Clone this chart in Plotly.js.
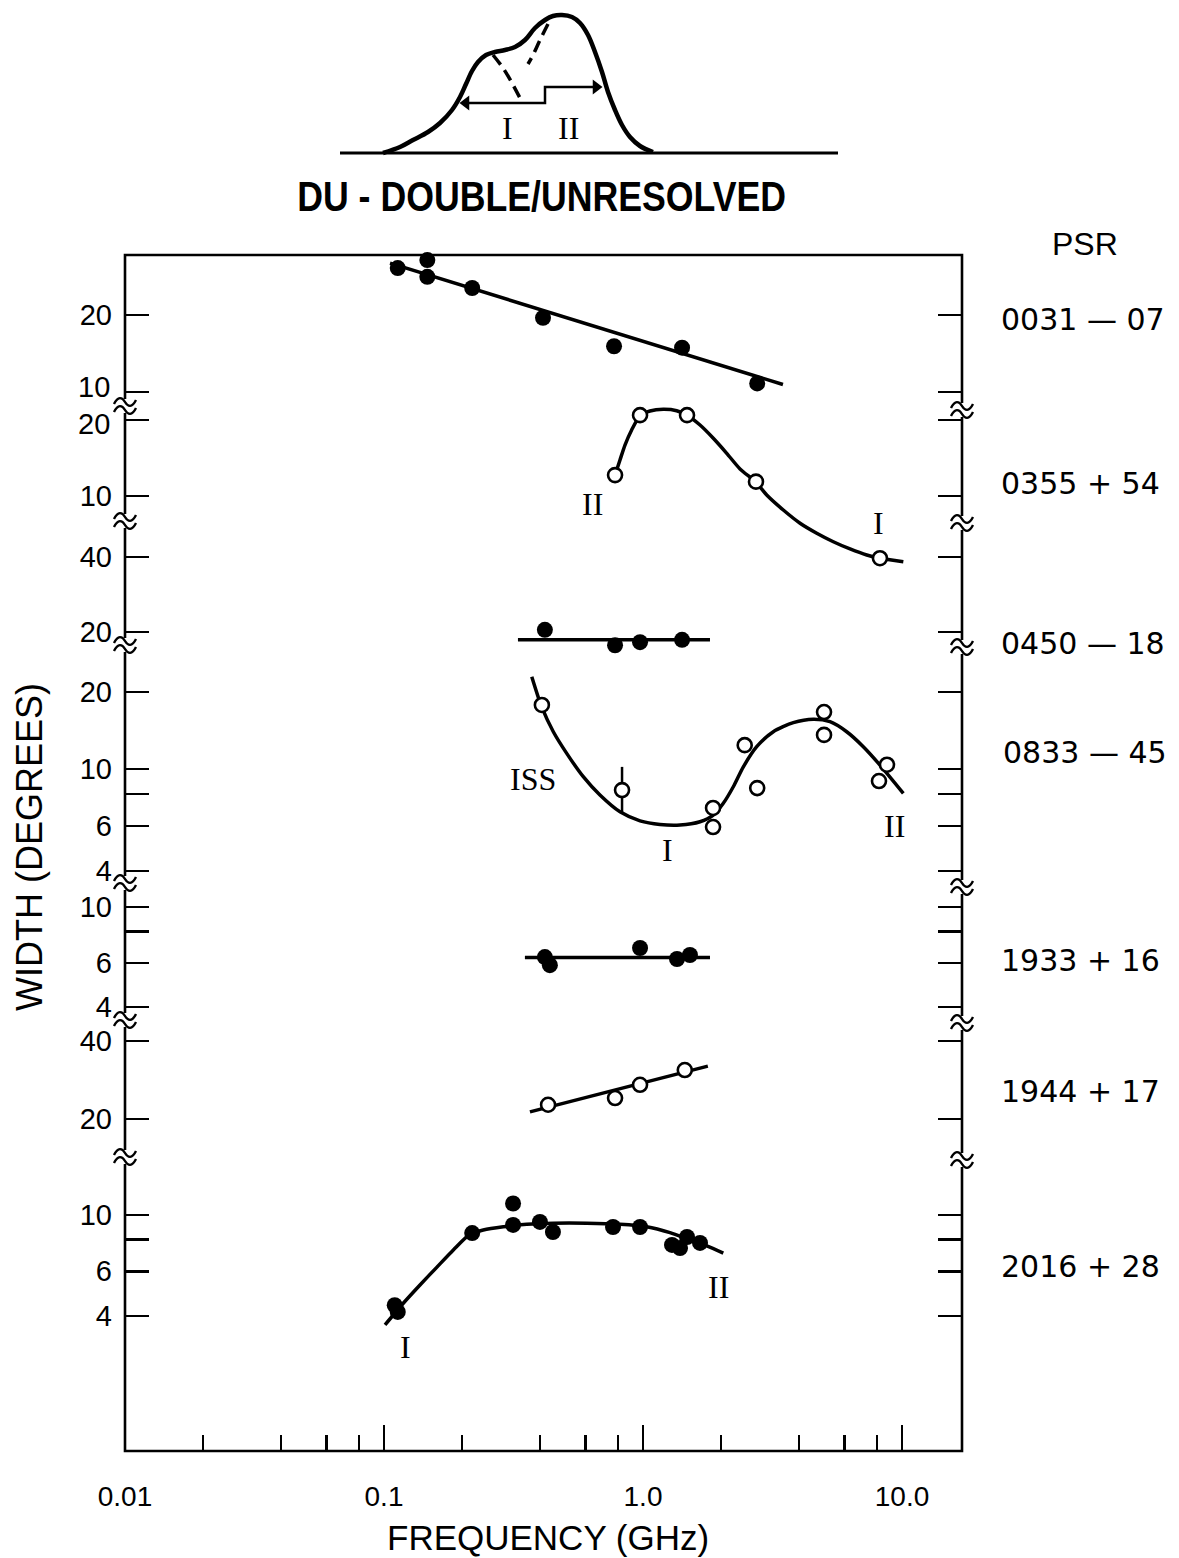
<!DOCTYPE html>
<html><head><meta charset="utf-8">
<script src="https://cdn.plot.ly/plotly-3.0.1.min.js"></script>
<style>html,body{margin:0;padding:0;background:#fff}</style>
</head><body>
<div id="chart" style="width:1179px;height:1558px"></div>
<script>
// ---------------- DATA (frequency in GHz, width in degrees) ----------------
// PSR 0031-07 (filled)
const f0031 = [0.113, 0.147, 0.147, 0.219, 0.411, 0.773, 1.415, 2.76];
const w0031 = [30.5, 32.8, 28.2, 25.5, 19.5, 15.1, 14.9, 10.8];
const fitF0031 = [0.1055, 3.47];
const fitW0031 = [31.9, 10.7];
// PSR 0355+54 (open)
const f0355 = [0.780, 0.974, 1.479, 2.73, 8.22];
const w0355 = [12.1, 20.9, 20.9, 11.4, 5.67];
const fitF0355 = [0.780, 0.815, 0.852, 0.904, 0.974, 1.064, 1.198, 1.349, 1.475, 1.66, 1.868, 2.105, 2.369, 2.731, 3.004, 3.481, 4.04, 4.686, 5.43, 6.30, 7.31, 8.22, 10.12];
const fitW0355 = [12.11, 13.89, 15.92, 18.26, 20.8, 21.71, 22.05, 21.77, 20.93, 19.1, 16.93, 14.76, 12.8, 11.33, 10.09, 8.80, 7.80, 7.12, 6.59, 6.17, 5.84, 5.67, 5.49];
// PSR 0450-18 (filled)
const f0450 = [0.418, 0.780, 0.974, 1.415];
const w0450 = [20.4, 17.7, 18.2, 18.6];
const fitF0450 = [0.329, 1.814];
const fitW0450 = [18.6, 18.6];
// PSR 0833-45 (open)
const f0833 = [0.407, 0.830, 1.864, 1.864, 2.47, 2.76, 5.0, 5.0, 8.75, 8.15];
const w0833 = [17.8, 8.28, 7.05, 5.94, 12.4, 8.43, 16.7, 13.6, 10.4, 8.98];
const errF0833 = [0.830];
const errW0833 = [8.28];
const errHi0833 = [10.2];
const errLo0833 = [6.8];
const fitF0833 = [0.372, 0.406, 0.4505, 0.5075, 0.588, 0.682, 0.815, 0.974, 1.163, 1.39, 1.66, 1.868, 2.042, 2.232, 2.44, 2.748, 3.185, 3.805, 4.546, 5.272, 6.116, 7.089, 8.222, 10.12];
const fitW0833 = [22.95, 17.52, 13.99, 11.52, 9.34, 7.92, 6.81, 6.28, 6.08, 6.05, 6.23, 6.61, 7.35, 8.53, 10.2, 12.23, 13.99, 15.18, 15.65, 15.31, 13.99, 12.23, 10.37, 8.04];
// PSR 1933+16 (filled)
const f1933 = [0.418, 0.437, 0.974, 1.353, 1.518];
const w1933 = [6.32, 5.87, 6.87, 6.21, 6.44];
const fitF1933 = [0.350, 1.814];
const fitW1933 = [6.3, 6.3];
// PSR 1944+17 (open)
const f1944 = [0.430, 0.780, 0.974, 1.45];
const w1944 = [22.7, 24.1, 27.1, 30.9];
const fitF1944 = [0.366, 1.78];
const fitW1944 = [21.3, 32.0];
// PSR 2016+28 (filled)
const f2016 = [0.110, 0.113, 0.219, 0.315, 0.315, 0.400, 0.449, 0.766, 0.974, 1.294, 1.39, 1.479, 1.66];
const w2016 = [4.41, 4.15, 8.49, 11.1, 9.14, 9.39, 8.57, 8.97, 8.97, 7.62, 7.41, 8.19, 7.76];
const fitF2016 = [0.1009, 0.1187, 0.1377, 0.1598, 0.1852, 0.2148, 0.2417, 0.2888, 0.3556, 0.4505, 0.6063, 0.815, 1.033, 1.271, 1.518, 1.762, 2.042];
const fitW2016 = [3.69, 4.49, 5.30, 6.22, 7.28, 8.39, 8.73, 8.99, 9.19, 9.28, 9.28, 9.19, 8.99, 8.52, 7.97, 7.55, 7.07];

// tick labels
const xTickVals = [0.01, 0.1, 1, 10];
const xTickText = ['0.01', '0.1', '1.0', '10.0'];
const xMinorVals = [0.02, 0.04, 0.06, 0.08, 0.2, 0.4, 0.6, 0.8, 2, 4, 6, 8];
const panelTickVals = [[20, 10], [20, 10], [40, 20], [20, 10, 8, 6, 4], [10, 8, 6, 4], [40, 20], [10, 8, 6, 4]];
const panelTickText = [['20', ''], ['', '10'], ['40', '20'], ['20', '10', '', '6', '4'], ['10', '', '6', '4'], ['40', '20'], ['10', '', '6', '4']];
const psrNames = ['0031 — 07', '0355 + 54', '0450 — 18', '0833 — 45', '1933 + 16', '1944 + 17', '2016 + 28'];

// schematic double profile (sketch units)
const sketchProfX = [383, 400, 413, 428, 440, 452, 460, 466, 472, 478, 486, 495, 505, 515, 525, 535, 545, 553, 562, 572, 580, 588, 595, 602, 608, 615, 622, 630, 640, 653];
const sketchProfY = [153, 147, 140, 132, 123, 110, 97, 84, 71, 62, 55, 52, 50, 47, 40, 28, 20, 16, 15, 17, 23, 35, 52, 72, 92, 110, 125, 137, 146, 152];
const sketchBaseX = [340, 838];
const sketchBaseY = [153, 153];
const sketchCompIX = [493, 503, 512, 520];
const sketchCompIY = [55, 68, 83, 98];
const sketchCompIIX = [548, 540, 533, 528];
const sketchCompIIY = [24, 40, 55, 64];
const sketchWidthX = [466, 545, 545, 596];
const sketchWidthY = [103, 103, 87, 87];
const sketchArrowX = [466, 596];
const sketchArrowY = [103, 87];

// ---------------- LAYOUT GEOMETRY ----------------
const ML = 125, MR = 217, MB = 107;
const PH = 1558 - MB;      // paper height in px (top margin 0)
const PW = 1179 - ML - MR; // paper width in px
const FRAME_TOP = 255;
const py = p => (PH - p) / PH;
const pxX = p => (p - ML) / PW;

// each panel: pixel extent and two reference ticks (value, pixel)
const panelGeom = [
  {top: 255, bot: 406, v1: 20, p1: 315, v2: 10, p2: 392},
  {top: 406, bot: 578, v1: 20, p1: 420, v2: 10, p2: 496},
  {top: 521, bot: 662, v1: 40, p1: 557, v2: 20, p2: 632},
  {top: 645, bot: 883, v1: 20, p1: 692, v2: 4, p2: 871},
  {top: 883, bot: 1020, v1: 10, p1: 907, v2: 4, p2: 1007},
  {top: 1020, bot: 1157, v1: 40, p1: 1041, v2: 20, p2: 1119},
  {top: 1157, bot: 1451, v1: 10, p1: 1215, v2: 4, p2: 1316}
];
const namePos = [[999, 320], [999, 483], [999, 643], [1001, 753], [999, 961], [999, 1091], [999, 1266]];
const leftBreaks = [406, 521, 645, 883, 1020, 1157];
const rightBreaks = [410, 523, 647, 887, 1023, 1160];

const TICKFONT = {family: 'Liberation Sans, Arial, sans-serif', size: 29, color: '#000'};
const SERIF = {family: 'Liberation Serif, Times New Roman, serif', size: 32, color: '#000'};

const layout = {
  width: 1179, height: 1558,
  margin: {l: ML, r: MR, t: 0, b: MB, pad: 0},
  paper_bgcolor: '#fff', plot_bgcolor: 'rgba(0,0,0,0)',
  showlegend: false,
  xaxis: {
    type: 'log', range: [-2, -2 + (962 - ML) / 259], anchor: 'y7', domain: [0, 1],
    tickmode: 'array', tickvals: xTickVals, ticktext: xTickText,
    ticks: 'inside', ticklen: 26, tickwidth: 2.5, tickcolor: '#000',
    minor: {tickmode: 'array', tickvals: xMinorVals, ticks: 'inside', ticklen: 16, tickwidth: 2.5, tickcolor: '#000', showgrid: false},
    showline: false, showgrid: false, zeroline: false,
    tickfont: {family: 'Liberation Sans, Arial, sans-serif', size: 28, color: '#000'},
    ticklabelstandoff: 26, fixedrange: true
  },
  xaxis2: {
    type: 'log', overlaying: 'x', anchor: 'y', side: 'top', range: [-2, -2 + (962 - ML) / 259],
    tickmode: 'array', tickvals: xTickVals, showticklabels: false,
    ticks: 'inside', ticklen: 24, tickwidth: 2.5, tickcolor: '#000',
    minor: {tickmode: 'array', tickvals: xMinorVals, ticks: 'inside', ticklen: 15, tickwidth: 2.5, tickcolor: '#000', showgrid: false},
    showline: false, showgrid: false, zeroline: false, fixedrange: true
  },
  xaxis3: {domain: [0, 1], range: [ML, ML + PW], anchor: 'y8', visible: false, fixedrange: true},
  yaxis8: {domain: [py(250), 1], range: [250, 0], anchor: 'x3', visible: false, fixedrange: true},
  shapes: [],
  annotations: []
};

panelGeom.forEach((g, i) => {
  const l1 = Math.log10(g.v1), l2 = Math.log10(g.v2);
  const dpp = (l1 - l2) / (g.p2 - g.p1);
  const hi = l1 + (g.p1 - g.top) * dpp;
  const lo = l1 - (g.bot - g.p1) * dpp;
  layout['yaxis' + (i === 0 ? '' : i + 1)] = {
    type: 'log', domain: [py(g.bot), py(g.top)], range: [lo, hi], anchor: 'x',
    tickmode: 'array', tickvals: panelTickVals[i], ticktext: panelTickText[i],
    ticks: 'inside', ticklen: 24, tickwidth: 2.5, tickcolor: '#000', mirror: 'ticks',
    showline: false, showgrid: false, zeroline: false,
    tickfont: TICKFONT, ticklabelstandoff: 12, fixedrange: true
  };
  layout.annotations.push({
    xref: 'paper', yref: 'paper', x: pxX(namePos[i][0]), y: py(namePos[i][1]),
    text: psrNames[i], showarrow: false, xanchor: 'left', yanchor: 'middle',
    font: {family: 'DejaVu Sans, sans-serif', size: 30, color: '#000'}
  });
});
// the two crowded tick labels at the first break, set apart
layout.annotations.push(
  {xref: 'paper', yref: 'paper', x: pxX(111), y: py(404), text: '10', showarrow: false, xanchor: 'right', yanchor: 'bottom', borderpad: 0, font: TICKFONT},
  {xref: 'paper', yref: 'paper', x: pxX(111), y: py(407), text: '20', showarrow: false, xanchor: 'right', yanchor: 'top', borderpad: 0, font: TICKFONT}
);

// frame
layout.shapes.push({type: 'rect', xref: 'paper', yref: 'paper', x0: 0, x1: 1, y0: 0, y1: py(FRAME_TOP),
  line: {color: '#000', width: 2.6}, fillcolor: 'rgba(0,0,0,0)', layer: 'above'});
// axis breaks
function addBreak(xa, yp) {
  const base = {xref: 'paper', yref: 'paper', xsizemode: 'pixel', ysizemode: 'pixel', xanchor: xa, yanchor: py(yp), layer: 'above'};
  layout.shapes.push(Object.assign({}, base, {type: 'rect', x0: -4, x1: 4, y0: -7, y1: 7, fillcolor: '#fff', line: {width: 0}}));
  layout.shapes.push(Object.assign({}, base, {type: 'path', path: 'M-11,2 C-7,10 -3,9 0,4 C3,-1 7,-2 11,6', line: {color: '#000', width: 2.4}}));
  layout.shapes.push(Object.assign({}, base, {type: 'path', path: 'M-11,-6 C-7,2 -3,1 0,-4 C3,-9 7,-10 11,-2', line: {color: '#000', width: 2.4}}));
}
leftBreaks.forEach(b => addBreak(0, b));
rightBreaks.forEach(b => addBreak(1, b));

// titles & labels
layout.annotations.push(
  {xref: 'paper', yref: 'paper', x: pxX(548), y: py(1537), text: 'FREQUENCY (GHz)', showarrow: false,
   xanchor: 'center', yanchor: 'middle', font: {family: 'Liberation Sans, Arial, sans-serif', size: 35, color: '#000'}},
  {xref: 'paper', yref: 'paper', x: pxX(30), y: py(847), text: 'WIDTH (DEGREES)', showarrow: false, textangle: -90,
   xanchor: 'center', yanchor: 'middle', font: {family: 'Liberation Sans, Arial, sans-serif', size: 36, color: '#000'}},
  {xref: 'paper', yref: 'paper', x: pxX(1085), y: py(244), text: 'PSR', showarrow: false,
   xanchor: 'center', yanchor: 'middle', font: {family: 'Liberation Sans, Arial, sans-serif', size: 32, color: '#000'}},
  {xref: 'x3', yref: 'y8', x: 541, y: 196, text: '<b>DU - DOUBLE/UNRESOLVED</b>', showarrow: false,
   xanchor: 'center', yanchor: 'middle', font: {family: 'Liberation Sans, Arial, sans-serif', size: 43, color: '#000'}},
  {xref: 'x3', yref: 'y8', x: 507, y: 128, text: 'I', showarrow: false, font: SERIF},
  {xref: 'x3', yref: 'y8', x: 568, y: 128, text: 'II', showarrow: false, font: SERIF}
);
const compLabels = [['II', 592, 504], ['I', 878, 523], ['ISS', 533, 779], ['I', 667, 850], ['II', 894, 826], ['I', 405, 1347], ['II', 718, 1287]];
compLabels.forEach(c => layout.annotations.push({xref: 'paper', yref: 'paper', x: pxX(c[1]), y: py(c[2]), text: c[0],
  showarrow: false, xanchor: 'center', yanchor: 'middle', font: SERIF}));

// ---------------- TRACES ----------------
const traces = [];
const LINE = {color: '#000', width: 3.5};
function fit(fx, fy, ya, spline) {
  traces.push({type: 'scatter', mode: 'lines', x: fx, y: fy, xaxis: 'x', yaxis: ya,
    line: Object.assign({}, LINE, spline ? {shape: 'spline', smoothing: 0.7} : {}), hoverinfo: 'skip'});
}
function pts(fx, fy, ya, open) {
  traces.push({type: 'scatter', mode: 'markers', x: fx, y: fy, xaxis: 'x', yaxis: ya, cliponaxis: false,
    marker: open ? {symbol: 'circle', size: 14, color: '#fff', line: {color: '#000', width: 2.6}}
                 : {symbol: 'circle', size: 16, color: '#000', line: {width: 0}}, hoverinfo: 'skip'});
}
fit(fitF0031, fitW0031, 'y', false);      pts(f0031, w0031, 'y', false);
fit(fitF0355, fitW0355, 'y2', true);      pts(f0355, w0355, 'y2', true);
fit(fitF0450, fitW0450, 'y3', false);     pts(f0450, w0450, 'y3', false);
fit(fitF0833, fitW0833, 'y4', true);
traces.push({type: 'scatter', mode: 'markers', x: errF0833, y: errW0833, xaxis: 'x', yaxis: 'y4', cliponaxis: false,
  marker: {size: 1, color: 'rgba(0,0,0,0)'},
  error_y: {type: 'data', symmetric: false, array: errHi0833.map((h, k) => h - errW0833[k]),
            arrayminus: errW0833.map((w, k) => w - errLo0833[k]), width: 0, thickness: 2.5, color: '#000'}, hoverinfo: 'skip'});
pts(f0833, w0833, 'y4', true);
fit(fitF1933, fitW1933, 'y5', false);     pts(f1933, w1933, 'y5', false);
fit(fitF1944, fitW1944, 'y6', false);     pts(f1944, w1944, 'y6', true);
fit(fitF2016, fitW2016, 'y7', true);      pts(f2016, w2016, 'y7', false);

// schematic
const SK = {xaxis: 'x3', yaxis: 'y8', type: 'scatter', hoverinfo: 'skip'};
traces.push(Object.assign({}, SK, {mode: 'lines', x: sketchBaseX, y: sketchBaseY, line: {color: '#000', width: 3}}));
traces.push(Object.assign({}, SK, {mode: 'lines', x: sketchProfX, y: sketchProfY, line: {color: '#000', width: 4.5, shape: 'spline', smoothing: 1}}));
traces.push(Object.assign({}, SK, {mode: 'lines', x: sketchCompIX, y: sketchCompIY, line: {color: '#000', width: 3.5, dash: '12px,7px', shape: 'spline'}}));
traces.push(Object.assign({}, SK, {mode: 'lines', x: sketchCompIIX, y: sketchCompIIY, line: {color: '#000', width: 3.5, dash: '12px,7px', shape: 'spline'}}));
traces.push(Object.assign({}, SK, {mode: 'lines', x: sketchWidthX, y: sketchWidthY, line: {color: '#000', width: 2.5}}));
traces.push(Object.assign({}, SK, {mode: 'markers', x: sketchArrowX, y: sketchArrowY, cliponaxis: false,
  marker: {symbol: ['triangle-left', 'triangle-right'], size: 13, color: '#000'}}));

Plotly.newPlot('chart', traces, layout, {staticPlot: true, displayModeBar: false}).then(gd => {
  // condense the bold heading horizontally, like the original condensed type
  gd.querySelectorAll('.annotation-text').forEach(t => {
    if (t.textContent.indexOf('DOUBLE/UNRESOLVED') >= 0) {
      t.style.transformBox = 'fill-box';
      t.style.transformOrigin = 'center';
      t.style.transform = 'scaleX(0.83)';
    }
  });
});
</script>
</body></html>
